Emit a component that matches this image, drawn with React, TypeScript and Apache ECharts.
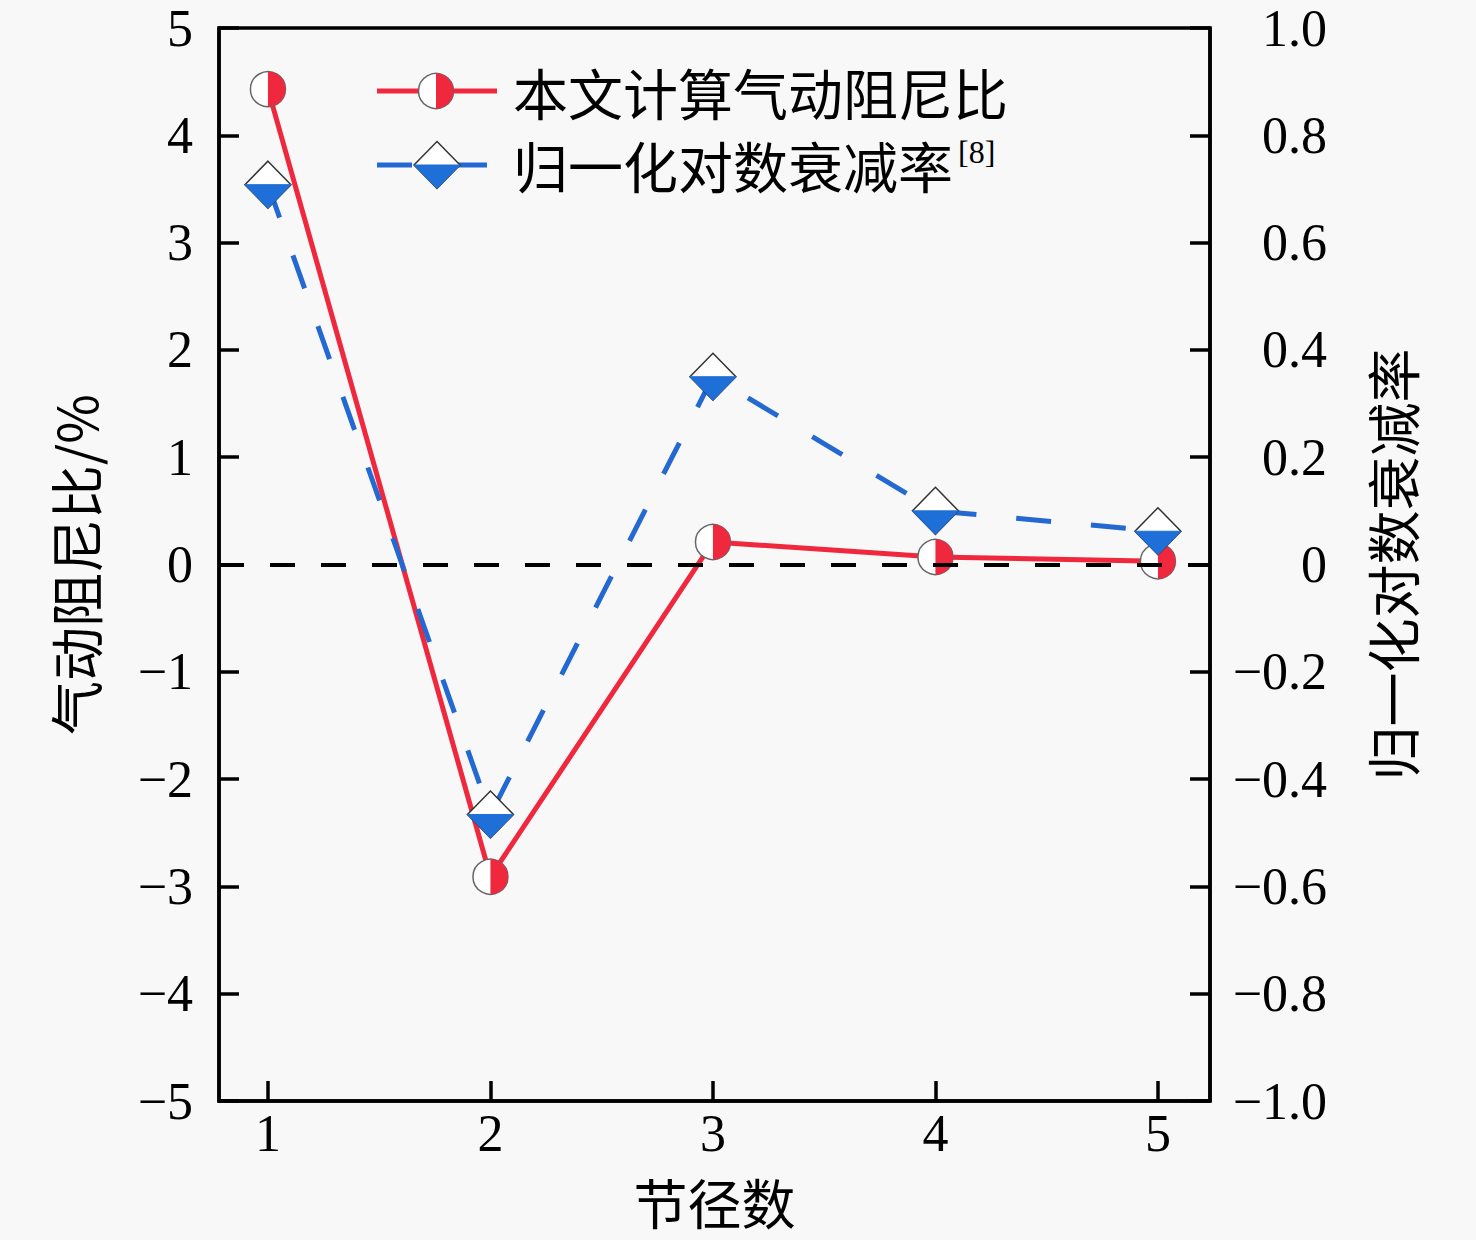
import React, { useEffect, useRef } from "react";
import * as echarts from "echarts";

// ---- data ----
const nodeDiameters = [1, 2, 3, 4, 5];
const aeroDampingRatio = [4.43, -2.91, 0.21, 0.07, 0.03]; // 本文计算气动阻尼比 (%), left axis
const normLogDecrement = [0.708, -0.466, 0.35, 0.1, 0.062]; // 归一化对数衰减率[8], right axis
const xTickValues = [1, 2, 3, 4, 5];
const seriesNames = ["本文计算气动阻尼比", "归一化对数衰减率"];
const xAxisName = "节径数";
const leftAxisName = "气动阻尼比/%";
const rightAxisName = "归一化对数衰减率";

const RED = "#f0283e";
const BLUE = "#1f6fd8";
const BLUE_LINE = "#2468d2";
const SERIF = '"Liberation Serif", "Times New Roman", serif';
const CJK = '"Noto Sans CJK SC", "Noto Sans", sans-serif';

const fmtMinus = (s: string) => s.replace("-", "\u2212");

const circleShapes = (cx: number, cy: number) => {
  const r = 17.5;
  return [
    { type: "circle", shape: { cx, cy, r }, style: { fill: "#fff", stroke: "#666", lineWidth: 1.5 } },
    {
      type: "sector",
      shape: { cx, cy, r0: 0, r, startAngle: -Math.PI / 2, endAngle: Math.PI / 2, clockwise: true },
      style: { fill: RED },
    },
  ];
};

const diamondShapes = (x: number, y: number) => {
  const w = 23;
  const h = 23.5;
  return [
    {
      type: "polygon",
      shape: { points: [[x, y - h], [x + w, y], [x, y + h], [x - w, y]] },
      style: { fill: "#fff", stroke: "#333", lineWidth: 1.5 },
    },
    {
      type: "polygon",
      shape: { points: [[x - w, y], [x + w, y], [x, y + h]] },
      style: { fill: BLUE, stroke: BLUE, lineWidth: 1 },
    },
  ];
};

export default function App() {
  const ref = useRef<HTMLDivElement>(null);
  useEffect(() => {
    if (!ref.current) return;
    const chart = echarts.init(ref.current, undefined, { renderer: "svg" });
    const redData = nodeDiameters.map((x, i) => [x, aeroDampingRatio[i]]);
    const blueData = nodeDiameters.map((x, i) => [x, normLogDecrement[i]]);

    const tickStyle = { color: "#000", width: 3.5 };
    const option: any = {
      animation: false,
      backgroundColor: "#f8f8f8",
      grid: {
        left: 219,
        right: 266,
        top: 28,
        bottom: 139,
        show: true,
        borderColor: "#000",
        borderWidth: 3.5,
        backgroundColor: "transparent",
      },
      xAxis: {
        type: "value",
        min: 0.78,
        max: 5.234,
        axisLine: { show: true, onZero: false, lineStyle: tickStyle },
        axisTick: { show: true, inside: true, length: 20, lineStyle: tickStyle, customValues: xTickValues },
        axisLabel: {
          customValues: xTickValues,
          fontSize: 52,
          fontFamily: SERIF,
          color: "#000",
          margin: 6,
        },
        splitLine: { show: false },
        name: xAxisName,
        nameLocation: "middle",
        nameGap: 72,
        nameTextStyle: { fontSize: 54, lineHeight: 56, fontFamily: CJK, color: "#000" },
      },
      yAxis: [
        {
          type: "value",
          min: -5,
          max: 5,
          interval: 1,
          position: "left",
          axisLine: { show: true, onZero: false, lineStyle: tickStyle },
          axisTick: { show: true, inside: true, length: 20, lineStyle: tickStyle },
          axisLabel: {
            fontSize: 52,
            fontFamily: SERIF,
            color: "#000",
            margin: 26,
            formatter: (v: number) => fmtMinus(String(Math.round(v))),
          },
          splitLine: { show: false },
          name: leftAxisName,
          nameLocation: "middle",
          nameRotate: 90,
          nameGap: 118,
          nameTextStyle: { fontSize: 54, fontFamily: CJK, color: "#000" },
        },
        {
          type: "value",
          min: -1,
          max: 1,
          interval: 0.2,
          position: "right",
          axisLine: { show: true, onZero: false, lineStyle: tickStyle },
          axisTick: { show: true, inside: true, length: 20, lineStyle: tickStyle },
          axisLabel: {
            fontSize: 52,
            fontFamily: SERIF,
            color: "#000",
            align: "right",
            margin: 117,
            formatter: (v: number) => (Math.abs(v) < 1e-9 ? "0" : fmtMinus(v.toFixed(1))),
          },
          splitLine: { show: false },
          name: rightAxisName,
          nameLocation: "middle",
          nameRotate: 90,
          nameGap: 154,
          nameTextStyle: { fontSize: 54, fontFamily: CJK, color: "#000" },
        },
      ],
      series: [
        {
          name: seriesNames[0],
          type: "line",
          xAxisIndex: 0,
          yAxisIndex: 0,
          data: redData,
          symbol: "none",
          lineStyle: { color: RED, width: 5 },
          z: 2,
          markLine: {
            silent: true,
            symbol: ["none", "none"],
            label: { show: false },
            lineStyle: { color: "#000", width: 4, type: [25, 26] },
            data: [{ yAxis: 0 }],
          },
        },
        {
          name: seriesNames[0] + "-marker",
          type: "custom",
          xAxisIndex: 0,
          yAxisIndex: 0,
          data: redData,
          encode: { x: 0, y: 1 },
          z: 3,
          renderItem: (_p: any, api: any) => {
            const pt = api.coord([api.value(0), api.value(1)]);
            return { type: "group", children: circleShapes(pt[0], pt[1]) };
          },
        },
        {
          name: seriesNames[1],
          type: "line",
          xAxisIndex: 0,
          yAxisIndex: 1,
          data: blueData,
          symbol: "none",
          lineStyle: { color: BLUE_LINE, width: 5, type: [35, 40] },
          z: 4,
        },
        {
          name: seriesNames[1] + "-marker",
          type: "custom",
          xAxisIndex: 0,
          yAxisIndex: 1,
          data: blueData,
          encode: { x: 0, y: 1 },
          z: 5,
          renderItem: (_p: any, api: any) => {
            const pt = api.coord([api.value(0), api.value(1)]);
            return { type: "group", children: diamondShapes(pt[0], pt[1]) };
          },
        },
      ],
      graphic: [
        {
          type: "group",
          z: 100,
          children: [
            { type: "line", shape: { x1: 377, y1: 91, x2: 497, y2: 91 }, style: { stroke: RED, lineWidth: 5 } },
            ...circleShapes(436, 91),
            {
              type: "text",
              style: { text: seriesNames[0], x: 513, y: 91, verticalAlign: "middle", font: `55px ${CJK}`, fill: "#000" },
            },
            {
              type: "line",
              shape: { x1: 377, y1: 165, x2: 490, y2: 165 },
              style: { stroke: BLUE_LINE, lineWidth: 5, lineDash: [35, 40] },
            },
            ...diamondShapes(437, 165),
            {
              type: "text",
              style: { text: seriesNames[1], x: 513, y: 164, verticalAlign: "middle", font: `55px ${CJK}`, fill: "#000" },
            },
            {
              type: "text",
              style: { text: "[8]", x: 958, y: 136, verticalAlign: "top", font: `32px ${SERIF}`, fill: "#000" },
            },
          ],
        },
      ],
    };
    chart.setOption(option);
    return () => chart.dispose();
  }, []);
  return <div ref={ref} style={{ position: "fixed", left: 0, top: 0, width: 1476, height: 1240 }} />;
}
